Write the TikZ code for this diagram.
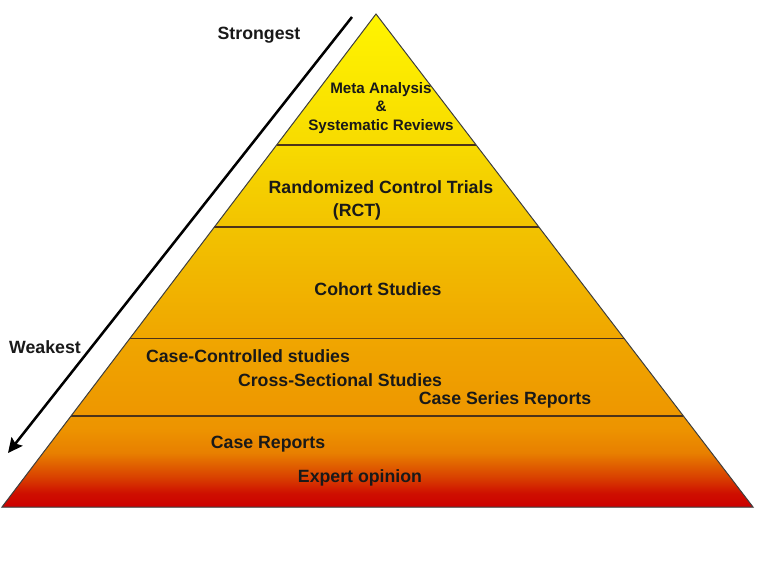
\documentclass[tikz,border=0pt]{standalone}
\usepackage{fontspec}
\setmainfont{Liberation Sans}
\usepackage{tikz}
\usetikzlibrary{arrows.meta,calc}

\pgfdeclareverticalshading{evidence}{100bp}{%
  rgb(0bp)=(0.80,0,0); rgb(25bp)=(0.80,0,0); rgb(26.4bp)=(0.81,0.06,0);
  rgb(28bp)=(0.85,0.25,0); rgb(30.5bp)=(0.91,0.50,0); rgb(33bp)=(0.93,0.58,0);
  rgb(42bp)=(0.94,0.65,0); rgb(54bp)=(0.95,0.77,0); rgb(62bp)=(0.97,0.86,0);
  rgb(75bp)=(1,0.96,0); rgb(100bp)=(1,0.96,0)}

\begin{document}
\begin{tikzpicture}[
    x=0.75pt, y=-0.75pt,
    lvltext/.style={
        font=\fontsize{13.3}{16}\selectfont\bfseries, text=black!90,
        inner sep=0pt, anchor=base
    },
    toptext/.style={
        font=\fontsize{11.4}{13.9}\selectfont\bfseries, text=black!90,
        inner sep=0pt, align=center
    },
    sep/.style={draw=brown!40!black, line width=0.8pt},
    rim/.style={draw=black!75, line width=0.75pt},
    ordarrow/.style={-{Stealth[length=11pt,width=10.5pt,inset=2pt]}, line width=1.9pt, black}
]
\useasboundingbox (0,0) rectangle (768,576);

% Pyramid corners
\coordinate (apex) at (376,14);
\coordinate (bl) at (2,507);
\coordinate (br) at (753,507);
\fill[shading=evidence] (apex) -- (bl) -- (br) -- cycle;

% Level boundaries
\foreach \t in {0.2657,0.432,0.659,0.8154}{
    \draw[sep] ($(apex)!\t!(bl)$) -- ($(apex)!\t!(br)$);
}
\draw[rim] (apex) -- (bl) -- (br) -- cycle;

% Strength arrow
\coordinate (str) at (352,17);
\coordinate (wk) at (8,453);
\draw[ordarrow] (str) -- (wk);

\node[lvltext] (strong) at (259,39.5) {Strongest};
\node[lvltext] (weak) at (45,353.5) {Weakest};

% Level labels
\node[toptext] (meta) at (381,108) {Meta Analysis\\\&\\Systematic Reviews};
\node[lvltext] (rct) at (381,193.5) {Randomized Control Trials};
\node[lvltext] (rctab) at (357,216.5) {(RCT)};
\node[lvltext] (cohort) at (378,295.5) {Cohort Studies};
\node[lvltext] (casectl) at (248,362.5) {Case-Controlled studies};
\node[lvltext] (cross) at (340,386.5) {Cross-Sectional Studies};
\node[lvltext] (series) at (505,404.5) {Case Series Reports};
\node[lvltext] (casrep) at (268,448.5) {Case Reports};
\node[lvltext] (expert) at (360,482.5) {Expert opinion};
\end{tikzpicture}
\end{document}
